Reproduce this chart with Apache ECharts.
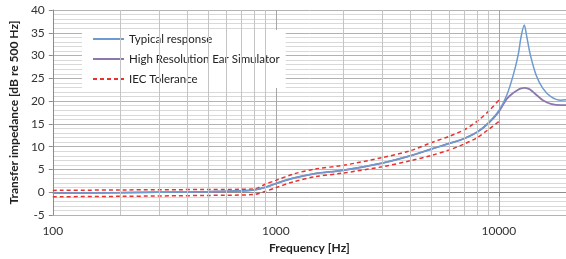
<!DOCTYPE html>
<html>
<head>
<meta charset="utf-8">
<script src="https://cdn.jsdelivr.net/npm/echarts@6/dist/echarts.min.js"></script>
<style>
  html, body { margin: 0; padding: 0; background: #fff; }
  #main { width: 566px; height: 259px; }
</style>
</head>
<body>
<div id="main"></div>
<script>
// frequency points (Hz) for the two response curves
var freqs = [100, 200, 300, 500, 700, 800, 900, 1000, 1200, 1500, 2000, 3000, 4000, 5000, 6000, 7000, 8000, 9000, 10000,
  10850, 11600, 12200, 12600, 13000, 13300, 13850, 14700, 15750, 17100, 19000, 20000];
var typical = [-0.2, -0.1, 0, 0.1, 0.3, 0.5, 1.1, 1.9, 3.1, 4.1, 4.8, 6.4, 8.0, 9.5, 10.7, 11.8, 13.2, 15.3, 17.9,
  21.3, 25.7, 30.1, 34.3, 36.7, 34.5, 30.1, 25.7, 22.8, 21.0, 20.2, 20.3];
var hiRes = [-0.2, -0.1, 0, 0.1, 0.3, 0.5, 1.1, 1.9, 3.1, 4.1, 4.8, 6.4, 8.0, 9.5, 10.7, 11.8, 13.2, 15.2, 17.7,
  20.5, 21.8, 22.5, 22.8, 22.9, 22.85, 22.5, 21.4, 20.2, 19.4, 19.1, 19.1];

// IEC tolerance limits
var tolFreqs = [100, 200, 500, 800, 900, 1000, 1200, 1500, 2000, 3000, 4000, 5000, 6000, 7000, 8000, 9000, 10000];
var tolUpper = [0.4, 0.5, 0.6, 0.7, 1.8, 2.6, 4.0, 5.1, 5.9, 7.6, 9.1, 10.9, 12.3, 13.7, 15.6, 17.8, 20.2];
var tolLower = [-1.0, -0.9, -0.7, -0.5, 0.2, 1.0, 2.3, 3.4, 4.2, 5.6, 6.9, 8.1, 9.3, 10.6, 12.0, 13.8, 15.5];

// minor log grid lines
var minorFreqs = [200, 300, 400, 500, 600, 700, 800, 900, 2000, 3000, 4000, 5000, 6000, 7000, 8000, 9000];

function pairs(xs, ys) {
  return xs.map(function (x, i) { return [x, ys[i]]; });
}

var font = 'Lato';
var myChart = echarts.init(document.getElementById('main'));

myChart.setOption({
  animation: false,
  textStyle: { fontFamily: font },
  grid: { left: 48, right: -4, top: 10, bottom: 44 },
  legend: {
    orient: 'vertical',
    left: 82,
    top: 30,
    itemWidth: 31,
    itemHeight: 14,
    itemGap: 8,
    padding: [3, 6, 3, 10],
    backgroundColor: '#fff',
    itemStyle: { opacity: 0 },
    data: ['Typical response', 'High Resolution Ear Simulator', 'IEC Tolerance'],
    textStyle: { fontFamily: font, fontSize: 11.5, color: '#222' }
  },
  xAxis: {
    type: 'log',
    logBase: 10,
    min: 100,
    max: 20000,
    name: 'Frequency [Hz]',
    nameLocation: 'middle',
    nameGap: 24,
    nameTextStyle: { fontFamily: font, fontSize: 12, fontWeight: 'bold', color: '#222' },
    axisLine: { lineStyle: { color: '#8c8c8c' } },
    axisTick: { show: true, length: 4, lineStyle: { color: '#8c8c8c' } },
    axisLabel: {
      showMaxLabel: false, fontSize: 12, color: '#333', margin: 10,
      formatter: function (v) { return String(Math.round(v)); }
    },
    splitLine: { show: true, lineStyle: { color: '#a6a6a6' } }
  },
  yAxis: {
    type: 'value',
    min: -5,
    max: 40,
    interval: 5,
    name: 'Transfer impedance [dB re 500 Hz]',
    nameLocation: 'middle',
    nameGap: 28,
    nameTextStyle: { fontFamily: font, fontSize: 12, fontWeight: 'bold', color: '#222' },
    axisLine: { show: true, lineStyle: { color: '#8c8c8c' } },
    axisTick: { show: true, length: 4, lineStyle: { color: '#8c8c8c' } },
    axisLabel: { fontSize: 12, color: '#333', margin: 8 },
    splitLine: { show: true, lineStyle: { color: '#b3b3b3' } },
    minorTick: { show: false, splitNumber: 5 },
    minorSplitLine: { show: true, lineStyle: { color: '#d9d9d9' } }
  },
  series: [
    {
      name: 'grid',
      type: 'line',
      data: [],
      silent: true,
      markLine: {
        silent: true,
        symbol: 'none',
        label: { show: false },
        lineStyle: { color: '#c4c4c4', type: 'solid', width: 1 },
        data: minorFreqs.map(function (f) { return { xAxis: f }; })
      }
    },
    {
      name: 'IEC Tolerance',
      type: 'line',
      data: pairs(tolFreqs, tolUpper),
      smooth: 0.3,
      showSymbol: false,
      symbol: 'none',
      color: '#e8322e',
      lineStyle: { width: 1.5, type: [4, 3] }
    },
    {
      name: 'IEC Tolerance',
      type: 'line',
      data: pairs(tolFreqs, tolLower),
      smooth: 0.3,
      showSymbol: false,
      symbol: 'none',
      color: '#e8322e',
      lineStyle: { width: 1.5, type: [4, 3] }
    },
    {
      name: 'High Resolution Ear Simulator',
      type: 'line',
      data: pairs(freqs, hiRes),
      smooth: 0.3,
      showSymbol: false,
      symbol: 'none',
      color: '#8b79ad',
      lineStyle: { width: 1.8 }
    },
    {
      name: 'Typical response',
      type: 'line',
      data: pairs(freqs, typical),
      smooth: 0.3,
      showSymbol: false,
      symbol: 'none',
      color: '#6c9bcf',
      lineStyle: { width: 1.5 }
    }
  ]
});
</script>
</body>
</html>
